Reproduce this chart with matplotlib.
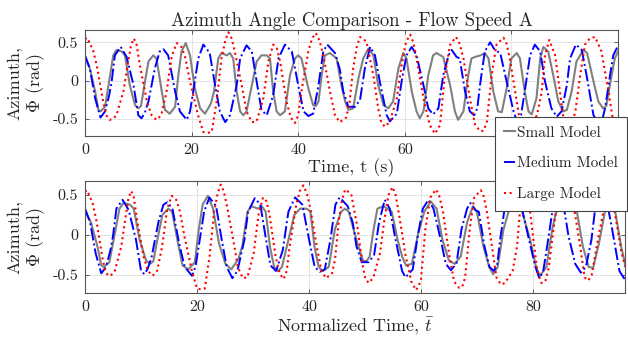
import matplotlib
matplotlib.use("Agg")
import matplotlib.pyplot as plt
from matplotlib.ticker import FuncFormatter

# azimuth traces (time in s, angle in rad)
t_small = [0.0, 0.9, 1.9, 2.5, 2.9, 3.75, 4.7, 5.3, 5.9, 6.9, 7.5, 8.4, 9.4, 10.0, 10.5,
           11.25, 11.9, 12.8, 13.4, 14.4, 15.0, 15.9, 16.9, 17.5, 18.1, 18.9, 19.7, 20.6,
           21.6, 22.5, 23.1, 23.6, 24.2, 25.0, 25.6, 26.6, 27.2, 27.8, 28.45, 29.1, 29.7,
           30.3, 31.3, 32.2, 33.1, 34.1, 34.7, 35.3, 35.95, 36.6, 37.5, 38.45, 39.4, 40.0,
           40.6, 41.9, 42.8, 43.3, 43.8, 44.4, 45.0, 45.95, 47.2, 48.1, 48.8, 49.4, 50.3,
           51.3, 52.2, 53.2, 54.1, 55.0, 56.0, 56.9, 57.8, 58.8, 59.7, 60.3, 61.3, 62.2,
           62.8, 63.5, 64.4, 65.3, 65.95, 67.2, 68.5, 69.4, 70.0, 71.0, 71.9, 72.5, 73.2,
           74.2, 75.0, 75.7, 76.6, 77.5, 78.2, 79.1, 80.0, 81.0, 81.6, 82.5, 83.2, 83.8,
           84.7, 85.4, 86.0, 86.9, 87.85, 88.8, 89.7, 90.4, 91.3, 92.2, 93.5, 94.2, 95.4,
           96.3, 97.2, 97.8, 98.8, 99.4, 100.0]
phi_small = [0.30, 0.16, -0.14, -0.38, -0.40, -0.34, 0.07, 0.33, 0.40, 0.38, 0.33, -0.06,
             -0.32, -0.36, -0.33, -0.01, 0.25, 0.33, 0.29, -0.14, -0.38, -0.43, -0.34, 0.07,
             0.38, 0.49, 0.33, -0.10, -0.36, -0.43, -0.36, -0.30, -0.14, 0.29, 0.36, 0.33,
             0.36, 0.29, -0.14, -0.40, -0.45, -0.40, -0.06, 0.25, 0.33, 0.33, 0.29, -0.14,
             -0.40, -0.45, -0.40, 0.07, 0.29, 0.33, 0.29, -0.10, -0.32, -0.33, -0.27, 0.07,
             0.33, 0.36, 0.29, -0.06, -0.27, -0.38, -0.36, 0.03, 0.29, 0.42, 0.33, -0.06,
             -0.32, -0.36, -0.27, 0.16, 0.36, 0.29, -0.14, -0.40, -0.49, -0.40, 0.07, 0.33,
             0.36, 0.31, -0.06, -0.40, -0.51, -0.40, 0.07, 0.29, 0.31, 0.33, 0.36, 0.29,
             -0.14, -0.40, -0.41, -0.10, 0.29, 0.36, 0.29, -0.14, -0.40, -0.44, -0.23, 0.29,
             0.44, 0.38, 0.07, -0.27, -0.40, -0.38, -0.14, 0.25, 0.40, 0.36, -0.01, -0.27,
             -0.36, -0.33, 0.07, 0.29, 0.38]

t_medium = [0.0, 0.9, 1.9, 2.9, 3.75, 4.5, 5.0, 5.6, 6.7, 7.8, 9.1, 10.0, 10.6, 11.2, 11.9,
            13.1, 14.0, 14.7, 15.6, 16.9, 17.8, 19.1, 19.7, 20.3, 21.25, 22.2, 23.4, 24.4,
            25.3, 26.3, 27.2, 28.45, 29.1, 30.3, 31.3, 32.2, 33.1, 34.1, 35.3, 36.3, 37.5,
            38.8, 40.0, 41.0, 41.9, 42.8, 43.8, 44.7, 45.45, 46.9, 47.8, 48.45, 49.4, 50.65,
            51.6, 52.5, 53.5, 54.4, 55.3, 56.6, 57.2, 58.5, 59.4, 60.3, 61.3, 62.2, 63.5,
            64.4, 65.3, 66.3, 67.2, 68.2, 68.8, 69.7, 70.3, 71.3, 72.2, 73.0, 73.6, 74.1,
            75.0, 76.0, 76.9, 77.9, 79.1, 80.4, 81.1, 81.8, 82.5, 83.5, 84.4, 85.4, 86.3,
            87.5, 88.5, 89.4, 90.4, 91.0, 92.1, 93.2, 94.1, 95.4, 96.2, 96.9, 97.6, 98.5,
            99.1, 99.9, 100.3]
phi_medium = [0.33, 0.16, -0.23, -0.48, -0.40, -0.20, -0.01, 0.33, 0.44, 0.31, -0.06, -0.45,
              -0.49, -0.42, -0.27, 0.16, 0.38, 0.41, 0.33, -0.14, -0.40, -0.51, -0.40, -0.14,
              0.29, 0.47, 0.36, -0.06, -0.40, -0.54, -0.45, -0.06, 0.29, 0.46, 0.38, -0.01,
              -0.38, -0.45, -0.19, 0.29, 0.47, 0.38, -0.06, -0.40, -0.46, -0.43, -0.06, 0.38,
              0.47, 0.36, 0.15, -0.14, -0.34, -0.34, -0.25, 0.16, 0.44, 0.33, -0.01, -0.45,
              -0.53, -0.43, -0.01, 0.33, 0.44, 0.33, -0.06, -0.36, -0.44, -0.36, 0.07, 0.33,
              0.40, 0.31, 0.29, -0.14, -0.40, -0.45, -0.36, -0.06, 0.38, 0.50, 0.40, 0.36,
              -0.01, -0.40, -0.54, -0.45, -0.14, 0.33, 0.47, 0.38, -0.01, -0.36, -0.47, -0.40,
              -0.06, 0.29, 0.47, 0.40, 0.07, -0.45, -0.54, -0.55, -0.35, 0.07, 0.33, 0.44, 0.46]

t_large = [0.0, 0.4, 1.5, 2.2, 3.4, 4.0, 4.6, 5.2, 5.9, 7.2, 8.1, 8.6, 9.1, 9.6, 10.3, 11.6,
           12.5, 13.4, 14.3, 15.3, 16.3, 17.2, 18.1, 18.8, 19.7, 21.2, 22.2, 23.0, 23.75,
           24.7, 25.6, 26.3, 26.9, 27.5, 28.1, 29.4, 30.3, 31.3, 32.2, 33.45, 34.4, 35.3,
           36.0, 36.6, 37.8, 38.6, 39.4, 40.0, 40.6, 41.9, 42.6, 43.3, 44.0, 44.7, 45.95,
           46.9, 47.8, 49.0, 49.6, 50.3, 51.0, 51.6, 52.8, 54.1, 55.0, 55.6, 56.3, 57.2,
           58.5, 59.4, 60.2, 61.0, 61.6, 62.2, 63.5, 64.7, 65.65, 66.6, 67.5, 68.5, 69.6,
           70.3, 71.0, 72.2, 73.2, 74.2, 74.8, 75.4, 76.3, 77.2, 78.5, 79.1, 79.7, 80.7,
           81.6, 82.5, 83.3, 84.8, 85.7, 86.3, 87.1, 88.2, 89.1, 89.7, 90.5, 91.3, 92.0,
           92.9, 93.8, 94.7, 95.7, 96.9, 98.2, 99.1, 99.8, 100.5, 101.6, 102.9, 103.9,
           104.9, 106.4, 107.2]
phi_large = [0.54, 0.56, 0.40, 0.20, -0.27, -0.45, -0.51, -0.50, -0.45, -0.14, 0.25, 0.45,
             0.55, 0.50, 0.20, -0.27, -0.45, -0.51, -0.45, -0.14, 0.33, 0.49, 0.44, 0.30,
             -0.01, -0.45, -0.67, -0.68, -0.67, -0.27, 0.29, 0.52, 0.63, 0.55, 0.38, -0.06,
             -0.40, -0.54, -0.53, -0.23, 0.25, 0.47, 0.42, 0.25, -0.27, -0.48, -0.55, -0.45,
             -0.14, 0.38, 0.55, 0.62, 0.52, 0.33, -0.14, -0.45, -0.54, -0.48, -0.30, 0.16,
             0.45, 0.57, 0.51, 0.07, -0.36, -0.55, -0.60, -0.53, -0.23, 0.20, 0.50, 0.60,
             0.50, 0.29, -0.23, -0.58, -0.69, -0.58, 0.07, 0.47, 0.57, 0.48, 0.29, -0.23,
             -0.58, -0.66, -0.65, -0.53, 0.07, 0.47, 0.56, 0.48, 0.29, -0.14, -0.53, -0.62,
             -0.60, -0.45, -0.14, 0.33, 0.53, 0.33, -0.14, -0.45, -0.60, -0.58, -0.40, 0.07,
             0.47, 0.55, 0.57, 0.38, -0.14, -0.53, -0.57, -0.50, -0.10, 0.32, 0.50, 0.35,
             -0.22, -0.40]

# time scale factors used for the normalized time axis
norm_small = 1.16
norm_medium = 1.0
norm_large = 0.9

labels = ["Small Model", "Medium Model", "Large Model"]

plt.rcParams["font.family"] = "serif"
plt.rcParams["font.serif"] = ["cmr10"]
plt.rcParams["mathtext.fontset"] = "cm"
plt.rcParams["axes.unicode_minus"] = False
plt.rcParams["axes.formatter.use_mathtext"] = True

series = [
    (t_small, phi_small, norm_small, dict(color=(0.5, 0.5, 0.5), ls="-", lw=1.5)),
    (t_medium, phi_medium, norm_medium, dict(color=(0, 0, 1), ls="-.", lw=1.4)),
    (t_large, phi_large, norm_large, dict(color=(1, 0, 0), ls=":", lw=1.5)),
]

fig = plt.figure(figsize=(6.28, 3.44), dpi=100)
ax1 = fig.add_axes([0.1354, 0.6047, 0.8487, 0.3081])
ax2 = fig.add_axes([0.1354, 0.1483, 0.8599, 0.3255])

handles = []
for (t, phi, k, st), lab in zip(series, labels):
    h, = ax1.plot(t, phi, label=lab, **st)
    ax2.plot([x * k for x in t], phi, **st)
    handles.append(h)

fmt = FuncFormatter(lambda v, p: f"{v:g}")
for ax in (ax1, ax2):
    ax.set_yticks([-0.5, 0, 0.5])
    ax.yaxis.set_major_formatter(fmt)
    ax.xaxis.set_major_formatter(fmt)
    ax.grid(True, color="#e4e4e4", lw=0.7)
    ax.set_axisbelow(True)
    ax.tick_params(direction="in", top=True, right=True, length=3, width=0.6,
                   color="#444444", labelsize=11.5, labelcolor="#262626", pad=5)
    for s in ax.spines.values():
        s.set_color("#555555")
        s.set_linewidth(0.8)
    ax.set_ylabel("Azimuth,\n$\\Phi$ (rad)", fontsize=13, color="#262626", linespacing=1.1)

ax1.set_xlim(0, 100)
ax1.set_ylim(-0.72, 0.66)
ax1.set_xticks([0, 20, 40, 60, 80, 100])
ax1.set_xlabel("Time, t (s)", fontsize=13, color="#262626", labelpad=1)
ax1.set_title("Azimuth Angle Comparison - Flow Speed A", fontsize=13.5, color="#262626", pad=3)

ax2.set_xlim(0, 96.4)
ax2.set_ylim(-0.725, 0.675)
ax2.set_xticks([0, 20, 40, 60, 80])
ax2.set_xlabel("Normalized Time, $\\bar{t}$", fontsize=13, color="#262626", labelpad=1)

leg = fig.legend(handles=handles, loc="upper left", bbox_to_anchor=(0.788, 0.66),
                 borderaxespad=0, fontsize=11, handlelength=0.75, handletextpad=0.1,
                 labelspacing=1.1, borderpad=0.6, fancybox=False, framealpha=1,
                 edgecolor="#444444")
leg.get_frame().set_linewidth(0.8)
for txt in leg.get_texts():
    txt.set_color("#262626")

fig.savefig("out.png", dpi=100)
